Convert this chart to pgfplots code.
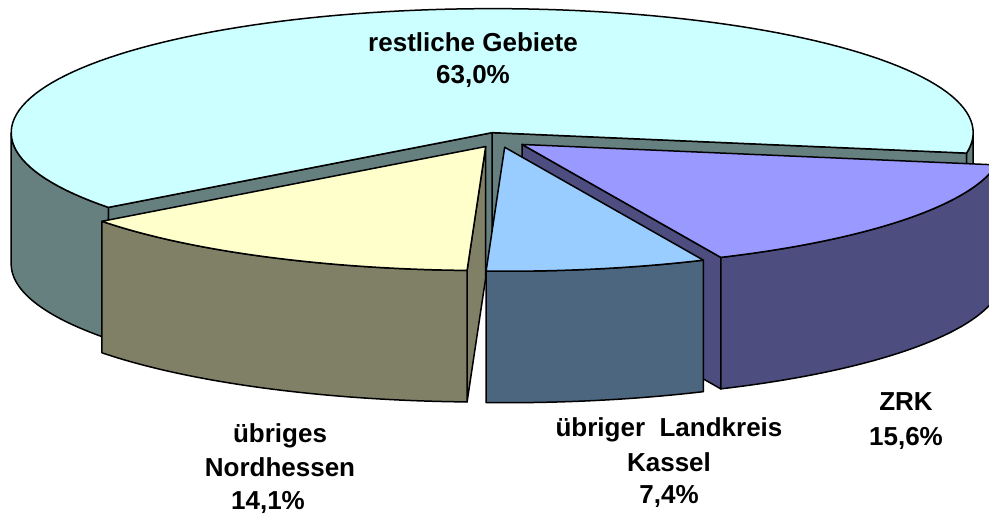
\documentclass[border=0pt]{standalone}
\usepackage{pgfplots}
\pgfplotsset{compat=1.18}
\usepackage{fontspec}
\setmainfont{Liberation Sans}

\definecolor{bigTop}{HTML}{CCFFFF}
\definecolor{bigWall}{HTML}{668080}
\definecolor{zrkTop}{HTML}{9999FF}
\definecolor{zrkWall}{HTML}{4D4D80}
\definecolor{lkTop}{HTML}{99CCFF}
\definecolor{lkWall}{HTML}{4D6680}
\definecolor{nhTop}{HTML}{FFFFCC}
\definecolor{nhWall}{HTML}{808066}

% data (percent)
\def\vBig{63.0}
\def\vZRK{15.6}
\def\vLK{7.4}
\def\vNH{14.1}

% geometry (pt = px)
\def\Ra{481}
\def\Rb{124}
\def\Hd{131.5}
\def\Ex{29}
\def\Cx{499.1}
\def\Cy{375.1}
\def\Start{-9.5}

\pgfmathsetmacro{\tot}{\vBig+\vZRK+\vLK+\vNH}
\pgfmathsetmacro{\zB}{\Start}
\pgfmathsetmacro{\zA}{\zB-\vZRK/\tot*360}
\pgfmathsetmacro{\lB}{\zA}
\pgfmathsetmacro{\lA}{\lB-\vLK/\tot*360}
\pgfmathsetmacro{\nB}{\lA}
\pgfmathsetmacro{\nA}{\nB-\vNH/\tot*360}
\pgfmathsetmacro{\gA}{\Start}
\pgfmathsetmacro{\gB}{\nA+360}
% slice centres (exploded along bisector)
\pgfmathsetmacro{\gX}{\Cx+\Ex*cos((\gA+\gB)/2)}
\pgfmathsetmacro{\gY}{\Cy+\Ex*\Rb/\Ra*sin((\gA+\gB)/2)}
\pgfmathsetmacro{\zX}{\Cx+\Ex*cos((\zA+\zB)/2)}
\pgfmathsetmacro{\zY}{\Cy+\Ex*\Rb/\Ra*sin((\zA+\zB)/2)}
\pgfmathsetmacro{\lX}{\Cx+\Ex*cos((\lA+\lB)/2)}
\pgfmathsetmacro{\lY}{\Cy+\Ex*\Rb/\Ra*sin((\lA+\lB)/2)}
\pgfmathsetmacro{\nX}{\Cx+\Ex*cos((\nA+\nB)/2)}
\pgfmathsetmacro{\nY}{\Cy+\Ex*\Rb/\Ra*sin((\nA+\nB)/2)}

\pgfplotsset{piestyle/.style={draw=black, line width=1.5pt, line join=round}}

% top face: centre x, centre y, angle from, angle to, colour
\newcommand{\topface}[5]{%
  \addplot[piestyle, fill=#5, domain=#3:#4, samples=120, variable=\t]
    ({#1+\Ra*cos(\t)}, {#2+\Rb*sin(\t)}) -- (axis cs:#1,#2) -- cycle;
}
% outer wall
\newcommand{\outerwall}[5]{%
  \addplot[piestyle, fill=#5, variable=\t,
    samples at={0,2,...,100,100.01,102,104,...,200}]
    ({#1+\Ra*cos(#3+(1-abs(\t-100)/100)*(#4-#3))},
     {#2+\Rb*sin(#3+(1-abs(\t-100)/100)*(#4-#3))-\Hd*(\t>100)}) -- cycle;
}
% radial wall
\newcommand{\radialwall}[4]{%
  \addplot[piestyle, fill=#4, variable=\t, samples at={0,1,2,3}]
    ({#1+\Ra*cos(#3)*(\t>0.5)*(\t<2.5)},
     {#2+\Rb*sin(#3)*(\t>0.5)*(\t<2.5)-\Hd*(\t>1.5)}) -- cycle;
}

\begin{document}
\begin{tikzpicture}
\begin{axis}[hide axis, scale only axis, width=989pt, height=515pt,
  xmin=0, xmax=989, ymin=0, ymax=515, clip=true]
% big slice (back)
\radialwall{\gX}{\gY}{\gA}{bigWall}
\radialwall{\gX}{\gY}{\gB}{bigWall}
\outerwall{\gX}{\gY}{\gA}{0}{bigWall}
\outerwall{\gX}{\gY}{180}{\gB}{bigWall}
\topface{\gX}{\gY}{\gA}{\gB}{bigTop}
% ZRK
\radialwall{\zX}{\zY}{\zA}{zrkWall}
\outerwall{\zX}{\zY}{\zA}{\zB}{zrkWall}
\topface{\zX}{\zY}{\zA}{\zB}{zrkTop}
% uebriges Nordhessen
\radialwall{\nX}{\nY}{\nB}{nhWall}
\outerwall{\nX}{\nY}{\nA}{\nB}{nhWall}
\topface{\nX}{\nY}{\nA}{\nB}{nhTop}
% uebriger Landkreis Kassel
\outerwall{\lX}{\lY}{\lA}{\lB}{lkWall}
\topface{\lX}{\lY}{\lA}{\lB}{lkTop}

\begin{scope}[every node/.style={anchor=base, inner sep=0pt, font=\fontsize{26}{34}\selectfont\bfseries}]
\node at (axis cs:473,463.3) {restliche Gebiete};
\node at (axis cs:473,431.7) {63,0\%};
\node at (axis cs:906,104.3) {ZRK};
\node at (axis cs:906,70) {15,6\%};
\node at (axis cs:669,78.3) {übriger\ \ Landkreis};
\node at (axis cs:669,43.3) {Kassel};
\node at (axis cs:669,11.7) {7,4\%};
\node at (axis cs:280,73) {übriges};
\node at (axis cs:280,38.5) {Nordhessen};
\node at (axis cs:268,6) {14,1\%};
\end{scope}
\end{axis}
\pgfresetboundingbox
\path[use as bounding box] (current axis.south west) rectangle (current axis.north east);
\end{tikzpicture}
\end{document}
